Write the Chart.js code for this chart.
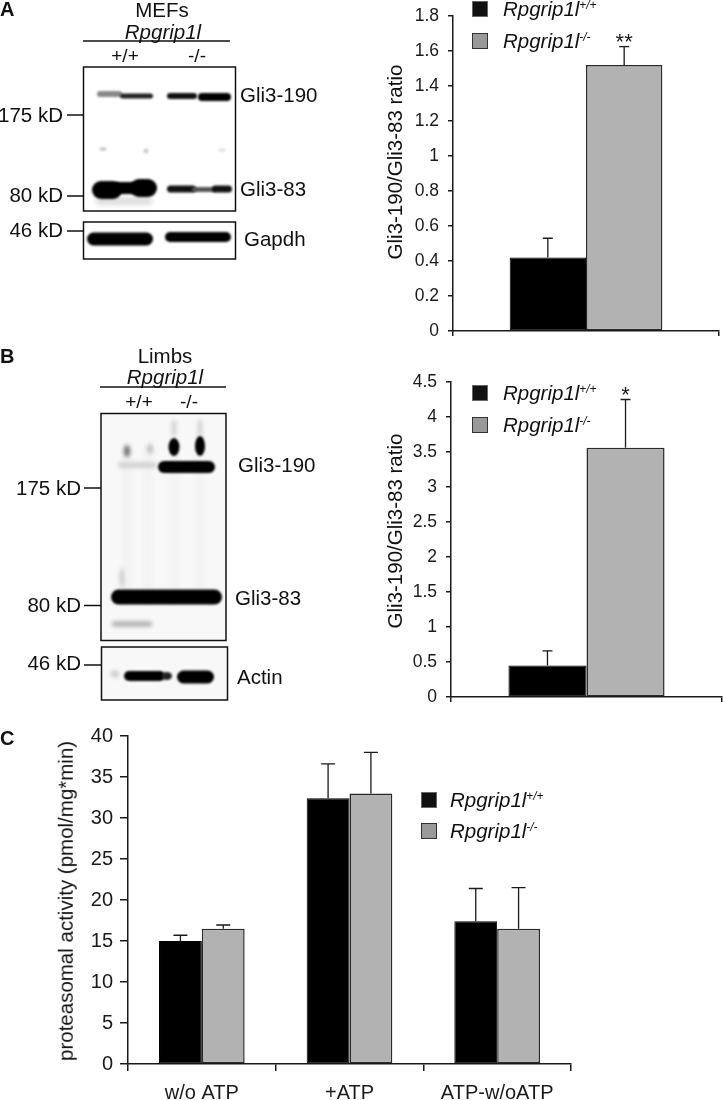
<!DOCTYPE html>
<html>
<head>
<meta charset="utf-8">
<title>Rpgrip1l</title>
<script src="https://cdn.jsdelivr.net/npm/chart.js@4"></script>
<style>
    html, body { margin: 0; padding: 0; background: #fff; }
    #page { position: relative; width: 723px; height: 1100px; overflow: hidden; font-family: "Liberation Sans", Arial, sans-serif; color: #111; }
    #page canvas { position: absolute; }
    .lbl { position: absolute; white-space: nowrap; line-height: 1; }
    .swatch { position: absolute; box-sizing: border-box; width: 16px; height: 16px; }
    .lbl sup { font-size: 0.58em; vertical-align: baseline; position: relative; top: -0.55em; }
</style>
</head>
<body>
<div id="page">
    <canvas id="blots" width="723" height="1100" style="left:0;top:0"></canvas>
    <canvas id="chartA" style="left:370px;top:0"></canvas>
    <canvas id="chartB" style="left:370px;top:360px"></canvas>
    <canvas id="chartC" style="left:0;top:720px"></canvas>
</div>
<script>
const seriesNames = ['Rpgrip1l +/+', 'Rpgrip1l -/-'];

// panel A
const catsA = ['MEFs'];
const wtA = [0.42];
const koA = [1.52];
const wtErrA = [0.53];
const koErrA = [1.625];
const sigA = ['**'];
const ticksA = ['0', '0.2', '0.4', '0.6', '0.8', '1', '1.2', '1.4', '1.6', '1.8'];

// panel B
const catsB = ['Limbs'];
const wtB = [0.45];
const koB = [3.56];
const wtErrB = [0.66];
const koErrB = [4.25];
const sigB = ['*'];
const ticksB = ['0', '0.5', '1', '1.5', '2', '2.5', '3', '3.5', '4', '4.5'];

// panel C
const catsC = ['w/o ATP', '+ATP', 'ATP-w/oATP'];
const wtC = [15, 32.4, 17.4];
const koC = [16.5, 33, 16.5];
const wtErrC = [15.7, 36.6, 21.4];
const koErrC = [16.95, 38, 21.5];
const ticksC = ['0', '5', '10', '15', '20', '25', '30', '35', '40'];

const yTitleAB = 'Gli3-190/Gli3-83 ratio';
const yTitleC = 'proteasomal activity (pmol/mg*min)';

const page = document.getElementById('page');
const ink = '#1a1a1a';
const font = 'Liberation Sans';

function addLabel(html, x, y, size, opts) {
    opts = opts || {};
    let el = document.createElement('div');
    el.className = 'lbl';
    el.innerHTML = html;
    el.style.left = x + 'px';
    el.style.top = y + 'px';
    el.style.fontSize = size + 'px';
    if (opts.italic) el.style.fontStyle = 'italic';
    if (opts.bold) el.style.fontWeight = 'bold';
    let tx = opts.align == 'right' ? '-100%' : opts.align == 'center' ? '-50%' : '0';
    el.style.transform = 'translate(' + tx + ',-50%)' + (opts.rotate ? ' rotate(-90deg)' : '');
    page.appendChild(el);
}

function addLegend(x, textX, y1, y2, size) {
    [[y1, '#111', '#666', '+/+'], [y2, '#999', '#333', '-/-']].forEach(function (row) {
        let sw = document.createElement('div');
        sw.className = 'swatch';
        sw.style.left = x + 'px';
        sw.style.top = row[0] - 8 + 'px';
        sw.style.background = row[1];
        sw.style.border = '1.5px solid ' + row[2];
        page.appendChild(sw);
        addLabel('Rpgrip1l<sup>' + row[3] + '</sup>', textX, row[0], size, { italic: true });
    });
}

// error bars and significance stars, positioned through the chart's own scales
const errorBars = {
    id: 'errorBars',
    afterDatasetsDraw(chart, args, opts) {
        let ctx = chart.ctx;
        let y = chart.scales.y;
        ctx.save();
        ctx.strokeStyle = ink;
        ctx.lineWidth = 1.3;
        chart.data.datasets.forEach(function (ds, d) {
            chart.getDatasetMeta(d).data.forEach(function (bar, i) {
                let top = y.getPixelForValue(ds.errTop[i]);
                ctx.beginPath();
                ctx.moveTo(bar.x, bar.y);
                ctx.lineTo(bar.x, top);
                ctx.moveTo(bar.x - opts.cap, top);
                ctx.lineTo(bar.x + opts.cap, top);
                ctx.stroke();
                if (ds.sig && ds.sig[i]) {
                    ctx.fillStyle = ink;
                    ctx.font = '22px "' + font + '"';
                    ctx.textAlign = 'center';
                    ctx.textBaseline = 'alphabetic';
                    ctx.fillText(ds.sig[i], bar.x, top + 2);
                }
            });
        });
        ctx.restore();
    }
};

function makeChart(id, w, h, cfg) {
    let canvas = document.getElementById(id);
    canvas.width = w;
    canvas.height = h;
    return new Chart(canvas, {
        type: 'bar',
        data: {
            labels: cfg.cats,
            datasets: [
                { label: seriesNames[0], data: cfg.wt, errTop: cfg.wtErr, backgroundColor: '#000', borderColor: '#000', borderWidth: 1, borderSkipped: false, barPercentage: 1, categoryPercentage: cfg.barPct },
                { label: seriesNames[1], data: cfg.ko, errTop: cfg.koErr, sig: cfg.sig, backgroundColor: '#b2b2b2', borderColor: '#2a2a2a', borderWidth: 1.5, borderSkipped: false, barPercentage: 1, categoryPercentage: cfg.barPct }
            ]
        },
        plugins: [errorBars],
        options: {
            responsive: false,
            animation: false,
            layout: { padding: cfg.padding },
            plugins: {
                legend: { display: false },
                tooltip: { enabled: false },
                errorBars: { cap: cfg.cap }
            },
            scales: {
                x: {
                    afterFit(scale) {
                        scale.height = cfg.xHeight;
                        scale.paddingLeft = 0;
                        scale.paddingRight = 0;
                    },
                    border: { color: ink, width: 1.5 },
                    grid: { offset: true, drawOnChartArea: false, color: ink, lineWidth: 1.5, tickLength: cfg.xTick },
                    ticks: { display: cfg.showX, color: ink, padding: 10, maxRotation: 0, autoSkip: false, font: { family: font, size: cfg.fontSize } }
                },
                y: {
                    min: 0,
                    max: cfg.max,
                    afterFit(scale) {
                        // keep the plot box where it is, labels may stick out
                        scale.width = cfg.yWidth;
                        scale.paddingTop = 0;
                        scale.paddingBottom = 0;
                    },
                    border: { color: ink, width: 1.5 },
                    grid: { drawOnChartArea: false, color: ink, lineWidth: 1.5, tickLength: cfg.yTick },
                    ticks: {
                        stepSize: cfg.step,
                        color: ink,
                        padding: cfg.yPad,
                        font: { family: font, size: cfg.fontSize },
                        callback: function (v, i) { return cfg.tickLabels[i]; }
                    }
                }
            }
        }
    });
}

makeChart('chartA', 353, 350, {
    cats: catsA, wt: wtA, ko: koA, wtErr: wtErrA, koErr: koErrA, sig: sigA, tickLabels: ticksA,
    max: 1.8, step: 0.2, barPct: 0.574, cap: 5, xTick: 5, yTick: 5, yPad: 9, fontSize: 17.5, showX: false,
    yWidth: 83, xHeight: 19, padding: { top: 16, right: 4, left: 0, bottom: 0 }
});
makeChart('chartB', 353, 350, {
    cats: catsB, wt: wtB, ko: koB, wtErr: wtErrB, koErr: koErrB, sig: sigB, tickLabels: ticksB,
    max: 4.5, step: 0.5, barPct: 0.576, cap: 5, xTick: 5, yTick: 5, yPad: 9, fontSize: 17.5, showX: false,
    yWidth: 81, xHeight: 13, padding: { top: 22, right: 1, left: 0, bottom: 0 }
});
makeChart('chartC', 723, 380, {
    cats: catsC, wt: wtC, ko: koC, wtErr: wtErrC, koErr: koErrC, tickLabels: ticksC,
    max: 40, step: 5, barPct: 0.58, cap: 7, xTick: 7, yTick: 8, yPad: 7, fontSize: 20, showX: true,
    yWidth: 128, xHeight: 36, padding: { top: 16, right: 152, left: 0, bottom: 0 }
});

addLabel(yTitleAB, 395, 162, 20.5, { align: 'center', rotate: true });
addLabel(yTitleAB, 395, 531, 20.5, { align: 'center', rotate: true });
addLabel(yTitleC, 66, 901, 20.5, { align: 'center', rotate: true });
addLegend(472, 503, 9, 41, 20.5);
addLegend(472, 503, 393, 425, 20.5);
addLegend(421, 450, 800, 831, 20.5);

// panel letters
addLabel('A', 0, 9, 20, { bold: true });
addLabel('B', 0, 356, 20, { bold: true });
addLabel('C', 0, 738, 20, { bold: true });

// blot annotations
addLabel('MEFs', 162, 10, 20.5, { align: 'center' });
addLabel('Rpgrip1l', 163, 32, 20.5, { align: 'center', italic: true });
addLabel('+/+', 125, 55, 19, { align: 'center' });
addLabel('-/-', 197, 55, 19, { align: 'center' });
addLabel('Gli3-190', 240, 95, 20.5);
addLabel('Gli3-83', 240, 189, 20.5);
addLabel('Gapdh', 244, 239, 20.5);
addLabel('175 kD', 63, 115, 20.5, { align: 'right' });
addLabel('80 kD', 63, 195, 20.5, { align: 'right' });
addLabel('46 kD', 63, 230, 20.5, { align: 'right' });

addLabel('Limbs', 165, 356, 20.5, { align: 'center' });
addLabel('Rpgrip1l', 165, 377, 20.5, { align: 'center', italic: true });
addLabel('+/+', 139, 401, 19, { align: 'center' });
addLabel('-/-', 189, 401, 19, { align: 'center' });
addLabel('Gli3-190', 238, 465, 20.5);
addLabel('Gli3-83', 235, 598, 20.5);
addLabel('Actin', 237, 677, 20.5);
addLabel('175 kD', 81, 488, 20.5, { align: 'right' });
addLabel('80 kD', 81, 605, 20.5, { align: 'right' });
addLabel('46 kD', 81, 663, 20.5, { align: 'right' });

// western blot panels are photographs, painted here as blurred shapes
function drawBlots() {
    let ctx = document.getElementById('blots').getContext('2d');

    function band(x0, x1, y, h, color, blur) {
        ctx.save();
        ctx.filter = 'blur(' + (blur || 1) + 'px)';
        ctx.fillStyle = color;
        ctx.beginPath();
        ctx.roundRect(x0, y - h / 2, x1 - x0, h, h / 2);
        ctx.fill();
        ctx.restore();
    }
    function blob(x, y, rx, ry, color, blur) {
        ctx.save();
        ctx.filter = 'blur(' + (blur || 1) + 'px)';
        ctx.fillStyle = color;
        ctx.beginPath();
        ctx.ellipse(x, y, rx, ry, 0, 0, Math.PI * 2);
        ctx.fill();
        ctx.restore();
    }
    function line(x0, y0, x1, y1) {
        ctx.strokeStyle = '#111';
        ctx.lineWidth = 1.5;
        ctx.beginPath();
        ctx.moveTo(x0, y0);
        ctx.lineTo(x1, y1);
        ctx.stroke();
    }

    // A, Gli3 blot
    band(97, 122, 94, 6, '#888', 1.2);
    band(120, 153, 96, 5, '#222', 1);
    band(167, 197, 96, 6, '#111', 1);
    band(198, 231, 97, 8, '#000', 1);
    blob(103, 149, 3.5, 2, '#ccc', 1.2);
    blob(146, 151, 2.5, 2.5, '#ccc', 1.2);
    blob(222, 150, 3.5, 1.5, '#ddd', 1.2);
    band(96, 152, 201, 8, '#ddd', 2.5);
    band(92, 122, 190, 18, '#000', 1.2);
    band(112, 138, 188, 12, '#000', 1.2);
    band(130, 157, 188, 18, '#000', 1.2);
    band(167, 196, 189, 7, '#111', 1.2);
    band(192, 216, 189.5, 5, '#555', 1.2);
    band(212, 232, 189, 7, '#111', 1.2);
    // A, Gapdh blot
    band(87, 153, 239, 13, '#000', 1.2);
    band(165, 231, 237, 10, '#000', 1.2);

    // B, background and lane smear
    ctx.fillStyle = '#f8f8f8';
    ctx.fillRect(101, 413, 125, 228);
    ctx.fillRect(101, 647, 126, 53);
    [127, 148, 174, 200].forEach(function (x) {
        band(x - 3, x + 3, 525, 150, '#f1f1f1', 3);
    });
    // B, Gli3 blot
    blob(127, 451, 3, 6, '#666', 2);
    blob(150, 449, 3, 5, '#bbb', 2);
    band(118, 157, 465, 5, '#ccc', 2);
    band(172, 176, 428, 16, '#ccc', 2);
    band(198, 202, 428, 16, '#ccc', 2);
    blob(174, 447, 5.5, 9, '#000', 1.2);
    blob(200, 446, 5, 10, '#000', 1.2);
    band(158, 215, 467, 12, '#000', 1.2);
    band(111, 222, 597, 15, '#000', 1.2);
    band(112, 152, 624, 5, '#aaa', 2);
    blob(122, 578, 2, 10, '#c4c4c4', 2);
    // B, actin blot
    blob(115, 674, 4, 3, '#c4c4c4', 2);
    band(124, 165, 676, 10, '#000', 1.2);
    blob(167, 676, 5, 4, '#222', 1.2);
    band(177, 214, 677, 13, '#000', 1.2);

    // frames, brackets, size markers
    ctx.strokeStyle = '#111';
    ctx.lineWidth = 1.5;
    ctx.strokeRect(83.5, 67, 152, 144);
    ctx.strokeRect(83.5, 222, 152, 37);
    ctx.strokeRect(101, 413.5, 125, 227);
    ctx.strokeRect(101.5, 647, 126, 53);
    line(83, 41, 230, 41);
    line(100, 387, 226, 387);
    line(67, 115, 83, 115);
    line(67, 196, 83, 196);
    line(67, 231, 83, 231);
    line(84, 488, 101, 488);
    line(84, 605.5, 101, 605.5);
    line(84, 665, 101, 665);
}
drawBlots();
</script>
</body>
</html>
